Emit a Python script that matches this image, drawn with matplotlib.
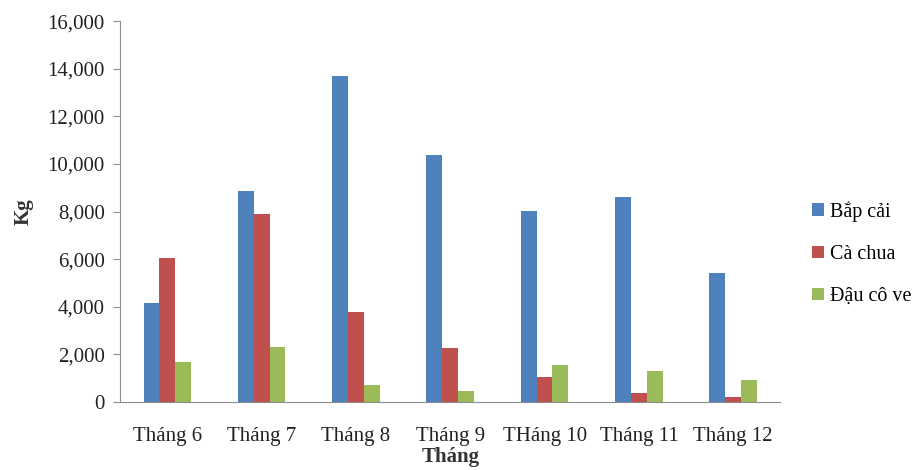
import numpy as np
import matplotlib.pyplot as plt

plt.rcParams['font.family'] = ['Liberation Serif', 'DejaVu Serif']

thang = ['Tháng 6', 'Tháng 7', 'Tháng 8', 'Tháng 9', 'THáng 10', 'Tháng 11', 'Tháng 12']
bap_cai = [4150, 8880, 13700, 10380, 8040, 8630, 5430]
ca_chua = [6050, 7890, 3760, 2280, 1050, 390, 220]
dau_co_ve = [1660, 2310, 700, 450, 1550, 1310, 925]

ten_rau = ['Bắp cải', 'Cà chua', 'Đậu cô ve']
mau = ['#4F81BD', '#C0504D', '#9BBB59']

fig = plt.figure(figsize=(9.17, 4.7), dpi=100)
ax = fig.add_axes([0.131, 0.145, 0.72, 0.81])

x = np.arange(len(thang))
w = 0.168
for i, (ds, ten) in enumerate(zip([bap_cai, ca_chua, dau_co_ve], ten_rau)):
    ax.bar(x + (i - 1) * w, ds, width=w, color=mau[i], label=ten)

ax.set_xlim(-0.5, len(thang) - 0.5)
ax.set_ylim(0, 16000)
ax.set_yticks(range(0, 16001, 2000))
ax.set_yticklabels([f'{v:,}' for v in range(0, 16001, 2000)])
ax.set_xticks(x)
ax.set_xticklabels(thang)

for s in ['top', 'right']:
    ax.spines[s].set_visible(False)
for s in ['left', 'bottom']:
    ax.spines[s].set_color('#8c8c8c')
ax.tick_params(axis='y', length=5, color='#8c8c8c', labelsize=15, pad=6, colors='#222222')
ax.tick_params(axis='x', length=0, labelsize=15, pad=18, colors='#222222')

ax.set_ylabel('Kg', fontsize=15, fontweight='bold', color='#333333', labelpad=10)
ax.set_xlabel('Tháng', fontsize=15, fontweight='bold', color='#333333', labelpad=1)

ax.legend(loc='upper left', bbox_to_anchor=(0.886, 0.572), bbox_transform=fig.transFigure,
          frameon=False, fontsize=14.5, handlelength=0.55, handleheight=0.55,
          handletextpad=0.3, labelspacing=1.15, borderaxespad=0, borderpad=0)

fig.savefig('out.png', dpi=100)
